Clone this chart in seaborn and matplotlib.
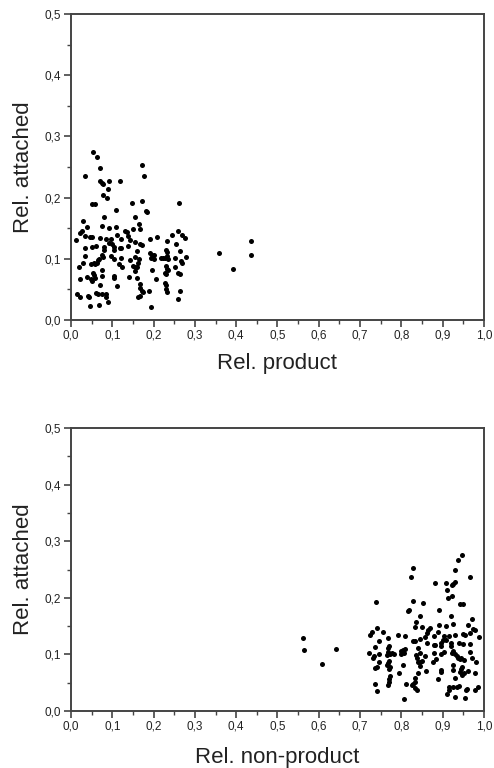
import matplotlib
matplotlib.use("Agg")
import matplotlib.pyplot as plt
from matplotlib.ticker import MultipleLocator, FuncFormatter
import numpy as np
import pandas as pd
import seaborn as sns

# Relative product fraction and relative attached fraction per sample
rel_product = [
    0.053, 0.062, 0.071, 0.035, 0.071, 0.075, 0.078, 0.092, 0.118, 0.089,
    0.078, 0.086, 0.051, 0.059, 0.173, 0.176, 0.147, 0.171, 0.181, 0.184,
    0.108, 0.080, 0.156, 0.028, 0.164, 0.038, 0.075, 0.092, 0.109, 0.027,
    0.021, 0.130, 0.135, 0.149, 0.167, 0.033, 0.046, 0.051, 0.071, 0.085,
    0.097, 0.111, 0.122, 0.139, 0.142, 0.013, 0.156, 0.191, 0.209, 0.061,
    0.079, 0.092, 0.100, 0.105, 0.118, 0.122, 0.138, 0.166, 0.172, 0.033,
    0.050, 0.081, 0.104, 0.160, 0.033, 0.074, 0.066, 0.069, 0.077, 0.096,
    0.103, 0.121, 0.143, 0.156, 0.164, 0.192, 0.197, 0.200, 0.193, 0.201,
    0.020, 0.030, 0.049, 0.055, 0.059, 0.062, 0.117, 0.123, 0.150, 0.155,
    0.159, 0.163, 0.054, 0.075, 0.056, 0.105, 0.104, 0.140, 0.156, 0.159,
    0.196, 0.205, 0.038, 0.022, 0.049, 0.052, 0.059, 0.074, 0.071, 0.111,
    0.166, 0.168, 0.172, 0.174, 0.190, 0.015, 0.021, 0.042, 0.043, 0.060,
    0.066, 0.075, 0.085, 0.084, 0.162, 0.166, 0.089, 0.045, 0.069, 0.194,
    0.261, 0.232, 0.244, 0.258, 0.270, 0.276, 0.254, 0.230, 0.233, 0.264,
    0.217, 0.222, 0.227, 0.232, 0.236, 0.253, 0.266, 0.269, 0.279, 0.230,
    0.232, 0.234, 0.228, 0.231, 0.253, 0.260, 0.264, 0.227, 0.230, 0.232,
    0.229, 0.264, 0.260, 0.358, 0.392, 0.437, 0.435,
]
rel_attached = [
    0.275, 0.267, 0.249, 0.236, 0.228, 0.224, 0.222, 0.227, 0.227, 0.214,
    0.204, 0.199, 0.189, 0.189, 0.253, 0.236, 0.191, 0.194, 0.178, 0.176,
    0.179, 0.168, 0.168, 0.162, 0.157, 0.152, 0.153, 0.150, 0.152, 0.145,
    0.143, 0.146, 0.144, 0.148, 0.149, 0.137, 0.135, 0.136, 0.134, 0.132,
    0.133, 0.139, 0.132, 0.137, 0.131, 0.131, 0.127, 0.132, 0.135, 0.121,
    0.120, 0.126, 0.125, 0.120, 0.117, 0.117, 0.121, 0.124, 0.123, 0.118,
    0.119, 0.114, 0.114, 0.112, 0.105, 0.106, 0.098, 0.100, 0.103, 0.105,
    0.100, 0.102, 0.098, 0.103, 0.099, 0.109, 0.107, 0.106, 0.102, 0.100,
    0.087, 0.094, 0.091, 0.093, 0.092, 0.094, 0.092, 0.087, 0.089, 0.087,
    0.086, 0.093, 0.077, 0.081, 0.074, 0.072, 0.069, 0.070, 0.080, 0.068,
    0.081, 0.067, 0.071, 0.067, 0.067, 0.063, 0.069, 0.072, 0.058, 0.056,
    0.059, 0.052, 0.048, 0.046, 0.047, 0.042, 0.038, 0.039, 0.037, 0.044,
    0.042, 0.042, 0.042, 0.037, 0.038, 0.040, 0.030, 0.023, 0.025, 0.022,
    0.192, 0.129, 0.139, 0.146, 0.139, 0.134, 0.124, 0.114, 0.111, 0.113,
    0.101, 0.102, 0.101, 0.105, 0.099, 0.101, 0.097, 0.094, 0.103, 0.089,
    0.084, 0.081, 0.077, 0.075, 0.086, 0.077, 0.076, 0.061, 0.057, 0.046,
    0.051, 0.047, 0.035, 0.110, 0.083, 0.129, 0.107,
]

df = pd.DataFrame({"product": rel_product, "attached": rel_attached})
# The non-product share is the complement of the product share
df["non_product"] = 1.0 - df["product"]

sns.set_style("ticks")
plt.rcParams["font.family"] = ["Liberation Sans", "DejaVu Sans"]

axis_color = "#444444"
text_color = "#222222"

fig = plt.figure(figsize=(4.94, 7.68), dpi=100)
ax_top = fig.add_axes([0.1437, 0.5833, 0.8360, 0.3984])
ax_bot = fig.add_axes([0.1437, 0.0742, 0.8360, 0.3685])

comma = FuncFormatter(lambda v, pos: f"{v:.1f}".replace(".", ","))


def style_axes(ax, xlabel, xpad):
    ax.set_xlim(0, 1.0)
    ax.set_ylim(0, 0.5)
    ax.xaxis.set_major_locator(MultipleLocator(0.1))
    ax.xaxis.set_minor_locator(MultipleLocator(0.05))
    ax.yaxis.set_major_locator(MultipleLocator(0.1))
    ax.yaxis.set_minor_locator(MultipleLocator(0.05))
    ax.xaxis.set_major_formatter(comma)
    ax.yaxis.set_major_formatter(comma)
    ax.tick_params(which="major", direction="out", length=5, width=1.2,
                   color=axis_color, labelsize=8.5, labelcolor=text_color, pad=2)
    ax.tick_params(which="minor", direction="out", length=3, width=1.0,
                   color=axis_color)
    ax.tick_params(top=False, right=False, which="both")
    for side in ["left", "right", "top", "bottom"]:
        ax.spines[side].set_visible(True)
        ax.spines[side].set_color(axis_color)
        ax.spines[side].set_linewidth(1.4)
    ax.set_xlabel(xlabel, fontsize=16, color=text_color, labelpad=xpad)
    ax.set_ylabel("Rel. attached", fontsize=16, color=text_color, labelpad=8)


sns.scatterplot(data=df, x="product", y="attached", ax=ax_top,
                color="black", s=13, linewidth=0, legend=False)
style_axes(ax_top, "Rel. product", 8)

sns.scatterplot(data=df, x="non_product", y="attached", ax=ax_bot,
                color="black", s=13, linewidth=0, legend=False)
style_axes(ax_bot, "Rel. non-product", 10)

fig.savefig("out.png", dpi=100)
